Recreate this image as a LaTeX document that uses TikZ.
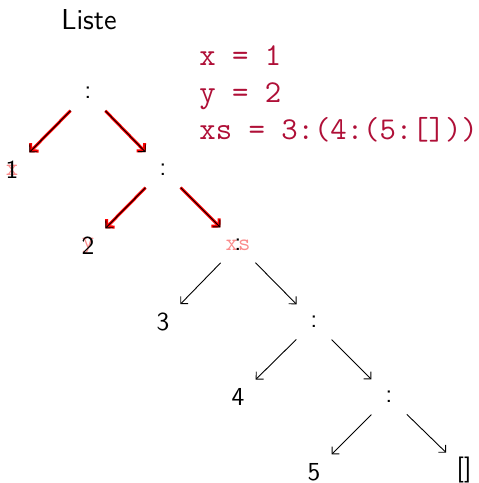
\documentclass[tikz,border=0pt]{standalone}
\usepackage{fontspec}
\usetikzlibrary{arrows.meta}
\definecolor{codered}{RGB}{175,15,55}
\definecolor{pinkred}{RGB}{250,140,140}
\begin{document}
\begin{tikzpicture}[x=0.5pt,y=-0.5pt,
  tn/.style={circle, minimum size=24.5pt, inner sep=0pt, font=\sffamily\fontsize{13}{15}\selectfont},
  lbl/.style={text=pinkred, font=\ttfamily\fontsize{12}{14}\selectfont, inner sep=0pt},
  code/.style={text=codered, font=\ttfamily\fontsize{15.9}{18}\selectfont, anchor=base west, inner sep=0pt},
  edge/.style={-{Straight Barb[length=2.6pt,width=5.2pt]}, line width=0.45pt},
  hl/.style={-{Straight Barb[length=2.6pt,width=5.6pt]}, red, line width=1.5pt}]
\useasboundingbox (0,0) rectangle (478,483);
\node[font=\sffamily\fontsize{14.4}{17}\selectfont, anchor=base, inner sep=0pt] (title) at (89,29.5) {Liste};
\node[code] (l1) at (199,65) {x = 1};
\node[code] (l2) at (199,102) {y = 2};
\node[code] (l3) at (199,139) {xs = 3:(4:(5:[]))};
% faded variable labels
\node[lbl] (px) at (12,170) {x};
\node[lbl] (py) at (88,246) {y};
\node[lbl] (pxs) at (238,245) {xs};
% tree nodes
\node[tn] (r) at (88,93) {:};
\node[tn] (n1) at (12,170) {1};
\node[tn] (c1) at (163,170) {:};
\node[tn] (n2) at (88,246) {2};
\node[tn] (c2) at (238,245) {:};
\node[tn] (n3) at (163,322) {3};
\node[tn] (c3) at (314,322) {:};
\node[tn] (n4) at (238,397) {4};
\node[tn] (c4) at (389,397) {:};
\node[tn] (n5) at (314,472) {5};
\node[tn] (nil) at (464,470) {[]};
% highlighted edges
\draw[hl] (r) -- (n1);
\draw[hl] (r) -- (c1);
\draw[hl] (c1) -- (n2);
\draw[hl] (c1) -- (c2);
% edges
\draw[edge] (r) -- (n1);
\draw[edge] (r) -- (c1);
\draw[edge] (c1) -- (n2);
\draw[edge] (c1) -- (c2);
\draw[edge] (c2) -- (n3);
\draw[edge] (c2) -- (c3);
\draw[edge] (c3) -- (n4);
\draw[edge] (c3) -- (c4);
\draw[edge] (c4) -- (n5);
\draw[edge] (c4) -- (nil);
\end{tikzpicture}
\end{document}
